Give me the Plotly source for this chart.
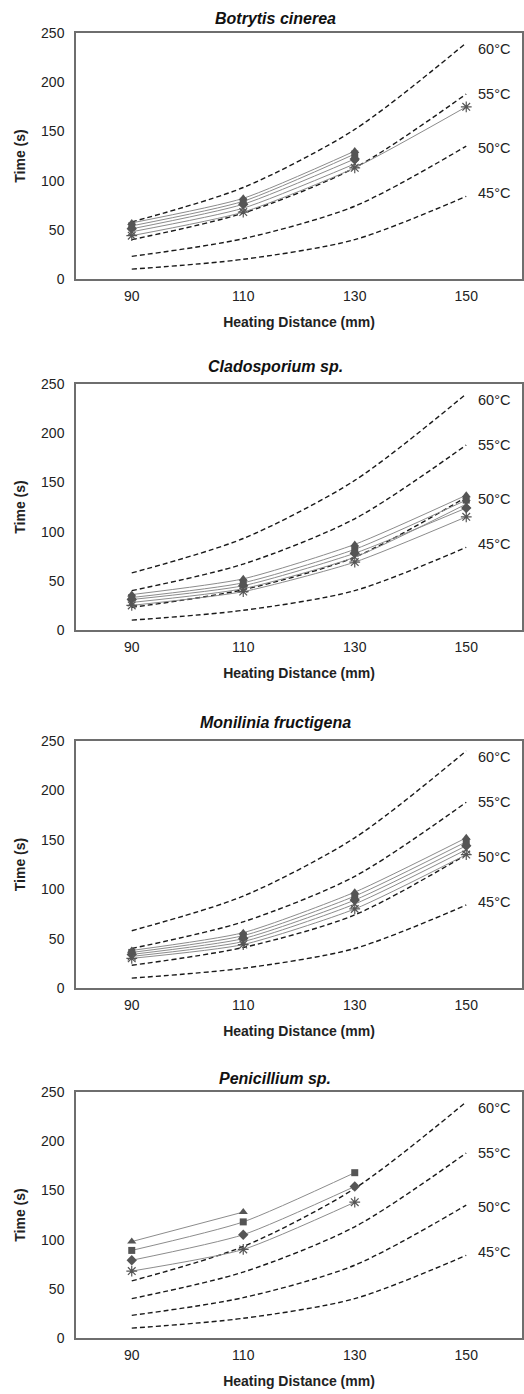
import plotly.graph_objects as go

# ---------------- data ----------------
distance = [90, 110, 130, 150]
tick_vals = [90, 110, 130, 150]

ref_temps = ["60°C", "55°C", "50°C", "45°C"]
ref_60 = [58, 93, 152, 240]
ref_55 = [40, 67, 113, 188]
ref_50 = [23, 41, 74, 135]
ref_45 = [10, 20, 40, 84]
ref_label_y = [234, 188, 133, 87]

titles = ["Botrytis cinerea", "Cladosporium sp.", "Monilinia fructigena", "Penicillium sp."]

# series per panel: triangle, square, diamond, x, asterisk
botrytis_tri = [57, 82, 130, None]
botrytis_sq = [54, 79, 127, None]
botrytis_dia = [51, 76, 122, None]
botrytis_x = [48, 72, 117, None]
botrytis_ast = [44, 68, 113, 175]

clado_tri = [36, 52, 87, 137]
clado_sq = [33, 48, 82, 132]
clado_dia = [31, 45, 78, 124]
clado_x = [28, 42, 74, 128]
clado_ast = [25, 39, 69, 115]

monil_tri = [38, 56, 97, 152]
monil_sq = [36, 53, 93, 148]
monil_dia = [34, 50, 89, 144]
monil_x = [32, 47, 85, 140]
monil_ast = [30, 44, 80, 135]

penic_tri = [98, 128, None, None]
penic_sq = [89, 118, 168, None]
penic_dia = [79, 105, 154, None]
penic_x = [None, None, None, None]
penic_ast = [68, 90, 138, None]

panels = [
    [botrytis_tri, botrytis_sq, botrytis_dia, botrytis_x, botrytis_ast],
    [clado_tri, clado_sq, clado_dia, clado_x, clado_ast],
    [monil_tri, monil_sq, monil_dia, monil_x, monil_ast],
    [penic_tri, penic_sq, penic_dia, penic_x, penic_ast],
]

# ---------------- styling ----------------
W, H = 524, 1394
L, R = 76, 522
panel_px = [(33, 279), (384, 630), (741, 988), (1092, 1338)]
title_px = [18, 367, 722, 1078]
FONT = "Liberation Sans, Arial, sans-serif"

symbols = ["triangle-up", "square", "diamond", "x-thin-open", "asterisk-open"]
sizes = [8, 7, 8, 8, 9]

fig = go.Figure()
annotations = []
layout_axes = {}

for i, series in enumerate(panels):
    n = i + 1
    xa = "x" if n == 1 else f"x{n}"
    ya = "y" if n == 1 else f"y{n}"
    top, bot = panel_px[i]
    dom = [1 - bot / H, 1 - top / H]

    for ref in [ref_60, ref_55, ref_50, ref_45]:
        fig.add_trace(go.Scatter(
            x=distance, y=ref, mode="lines", xaxis=xa, yaxis=ya,
            line=dict(color="#1a1a1a", width=1.4, dash="5px,3px", shape="spline", smoothing=0.8),
            showlegend=False, hoverinfo="skip"))

    for s, vals in enumerate(series):
        if all(v is None for v in vals):
            continue
        open_sym = symbols[s].endswith("open")
        fig.add_trace(go.Scatter(
            x=distance, y=vals, mode="lines+markers", xaxis=xa, yaxis=ya,
            connectgaps=False,
            line=dict(color="#8c8c8c", width=1, shape="spline", smoothing=0.6),
            marker=dict(symbol=symbols[s], size=sizes[s], color="#555555",
                        line=dict(color="#555555", width=1.2 if open_sym else 0)),
            showlegend=False))

    ax_common = dict(showline=True, linecolor="#6e6e6e", linewidth=1.5, mirror=True,
                     showgrid=False, zeroline=False, ticks="", automargin=False,
                     tickfont=dict(family=FONT, size=14, color="#222222"))
    layout_axes["xaxis" if n == 1 else f"xaxis{n}"] = dict(
        ax_common, domain=[0, 1], anchor=ya, range=[80, 160], tickvals=tick_vals,
        ticklabelstandoff=3,
        title=dict(text="<b>Heating Distance (mm)</b>", standoff=15,
                   font=dict(family=FONT, size=14, color="#222222")))
    layout_axes["yaxis" if n == 1 else f"yaxis{n}"] = dict(
        ax_common, domain=dom, anchor=xa, range=[0, 250], dtick=50,
        ticklabelstandoff=7,
        title=dict(text="<b>Time (s)</b>", standoff=12,
                   font=dict(family=FONT, size=14, color="#222222")))

    # temperature labels
    for t, ly in zip(ref_temps, ref_label_y):
        annotations.append(dict(x=151.8, y=ly, xref=xa, yref=ya, text=t, showarrow=False,
                                xanchor="left", yanchor="middle",
                                font=dict(family=FONT, size=14.5, color="#222222")))
    # title
    annotations.append(dict(x=(275 - L) / (R - L), y=1 - title_px[i] / H, xref="paper", yref="paper",
                            text=f"<b><i>{titles[i]}</i></b>", showarrow=False,
                            xanchor="center", yanchor="middle",
                            font=dict(family=FONT, size=16, color="#111111")))

fig.update_layout(
    width=W, height=H,
    margin=dict(l=L, r=W - R, t=0, b=0, autoexpand=False),
    paper_bgcolor="white", plot_bgcolor="white",
    annotations=annotations,
    **layout_axes,
)

fig.write_html("out.html",
               config={"displayModeBar": False},
               post_script="document.body.style.margin='0';document.body.style.overflow='hidden';")
